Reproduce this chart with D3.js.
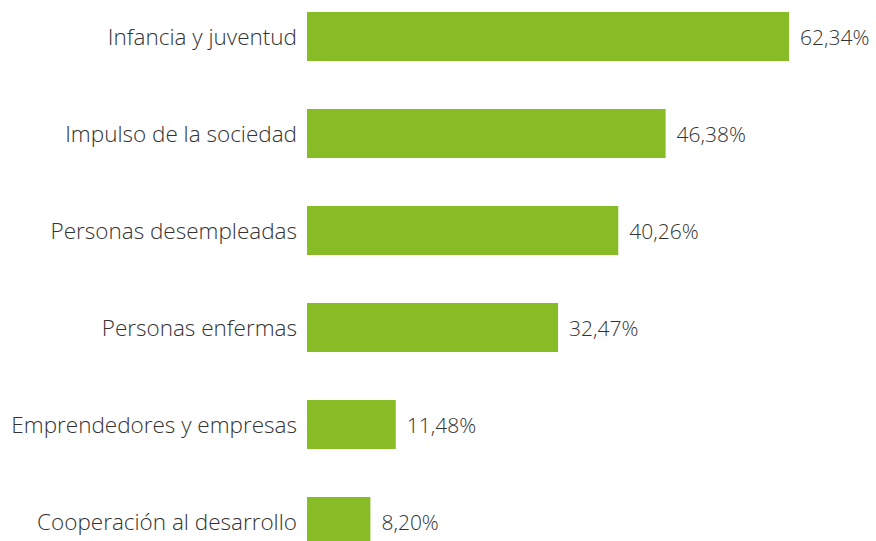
<!DOCTYPE html>
<html>
<head>
  <meta charset="UTF-8" />
  <script src="https://cdn.jsdelivr.net/npm/d3@7"></script>
  <style>
    body { margin: 0; background: #fff; }
    text { font-family: "Open Sans", sans-serif; font-weight: 300; fill: #333; }
  </style>
</head>
<body>
  <svg width="876" height="541"></svg>
  <script>
    // datos
    var categorias = [
      "Infancia y juventud",
      "Impulso de la sociedad",
      "Personas desempleadas",
      "Personas enfermas",
      "Emprendedores y empresas",
      "Cooperación al desarrollo"
    ];
    var valores = [62.34, 46.38, 40.26, 32.47, 11.48, 8.20];

    var svg = d3.select("svg");
    var left = 307;

    var x = d3.scaleLinear().domain([0, 62.34]).range([left, 789]);
    // paso de 97px, barras de 49px
    var y = d3.scaleBand()
      .domain(categorias)
      .range([12 - 24, 12 - 24 + 97 * 6])
      .paddingInner(48 / 97)
      .paddingOuter(24 / 97);

    var fmt = function (v) {
      return v.toFixed(2).replace(".", ",") + "%";
    };

    var filas = svg.selectAll("g.fila")
      .data(categorias)
      .enter()
      .append("g")
      .attr("class", "fila");

    filas.append("rect")
      .attr("x", x(0))
      .attr("y", function (d) { return y(d); })
      .attr("width", function (d, i) { return x(valores[i]) - x(0); })
      .attr("height", y.bandwidth())
      .attr("fill", "#87bc27");

    filas.append("text")
      .attr("x", left - 10)
      .attr("y", function (d) { return y(d) + y.bandwidth() / 2; })
      .attr("dy", "0.36em")
      .attr("text-anchor", "end")
      .attr("font-size", 22.5)
      .text(function (d) { return d; });

    filas.append("text")
      .attr("x", function (d, i) { return x(valores[i]) + 11; })
      .attr("y", function (d) { return y(d) + y.bandwidth() / 2; })
      .attr("dy", "0.4em")
      .attr("font-size", 21)
      .text(function (d, i) { return fmt(valores[i]); });
  </script>
</body>
</html>
